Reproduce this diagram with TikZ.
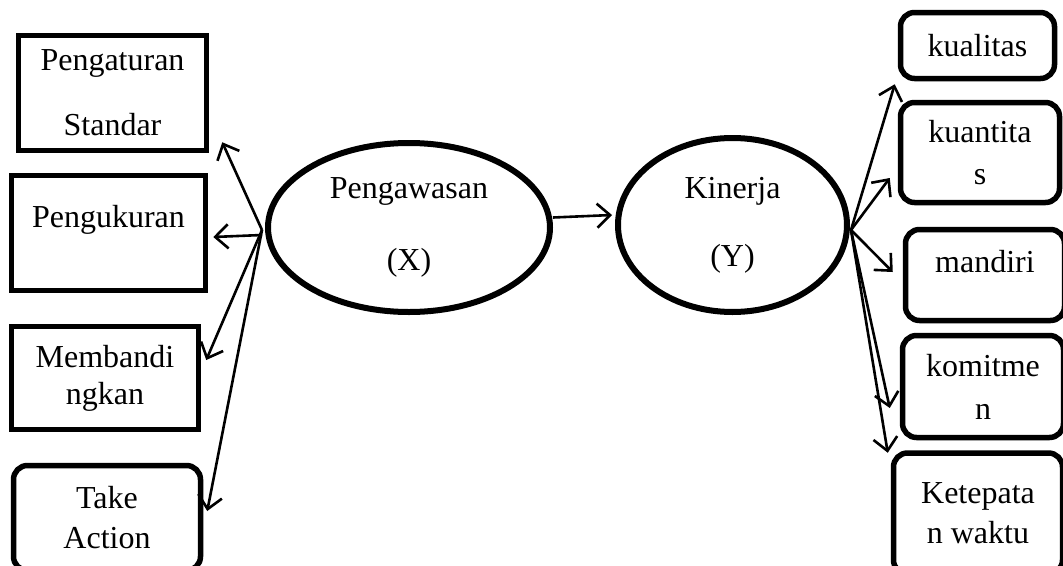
\documentclass[tikz,border=0pt]{standalone}
\usepackage{fontspec}
\setmainfont{Liberation Serif}
\usetikzlibrary{shapes.geometric,arrows.meta,calc}
\begin{document}
\begin{tikzpicture}[x=1pt,y=-1pt,
  box/.style={draw, line width=5.5pt, rectangle, inner sep=0pt, align=center, font=\fontsize{32}{#1}\selectfont},
  box/.default=40,
  rbox/.style={box=#1, rounded corners=14pt},
  rbox/.default=40,
  ell/.style={draw, ellipse, line width=6pt, inner sep=0pt, align=center, font=\fontsize{32}{#1}\selectfont},
  arr/.style={line width=2.6pt, -{Straight Barb[length=13pt,width=24pt,line width=2.6pt]}}]
\useasboundingbox (0,0) rectangle (1063,565);
% left boxes
\node[box=65, minimum width=188pt, minimum height=115pt] (b1) at (112.5,93) {Pengaturan\\Standar};
\node[box, minimum width=194pt, minimum height=115pt, text depth=34pt] (b2) at (108.5,233) {Pengukuran};
\node[box=37, minimum width=187pt, minimum height=103pt] (b3) at (105,378) {Membandi\\ngkan};
\node[rbox=40, minimum width=187pt, minimum height=105pt] (b4) at (107,518) {Take\\Action};
% ellipses
\node[ell=72, minimum width=282pt, minimum height=169pt] (P) at (409,227.5) {Pengawasan\\(X)};
\node[ell=68, minimum width=229pt, minimum height=174pt] (K) at (732.5,225) {Kinerja\\(Y)};
% right boxes
\node[rbox, minimum width=154pt, minimum height=66pt] (r1) at (977.5,45.5) {kualitas};
\node[rbox=42, minimum width=159pt, minimum height=100pt] (r2) at (980,152.5) {kuantita\\s};
\node[rbox, minimum width=159pt, minimum height=91pt, text depth=27pt] (r3) at (985,275) {mandiri};
\node[rbox=43, minimum width=161pt, minimum height=102pt] (r4) at (983,386.5) {komitme\\n};
\node[rbox=40, minimum width=169pt, minimum height=121pt] (r5) at (978,513.5) {Ketepata\\n waktu};
% origins
\coordinate (L) at (262,230);
\coordinate (R) at (851,230);
% connectors
\draw[arr] ([yshift=10pt]P.east) -- ([yshift=10pt,xshift=-3pt]K.west);
\draw[arr] (L) -- ($(b1.south east)+(13,-11)$);
\draw[arr] ($(L)+(0,5)$) -- ($(b2.east)+(5,4)$);
\draw[arr] (L) -- ($(b3.east)+(5,-18)$);
\draw[arr] (L) -- ($(b4.east)+(4,-7)$);
\draw[arr] (R) -- ($(r1.south west)+(-3,3)$);
\draw[arr] (R) -- ($(r2.west)+(-8,25.5)$);
\draw[arr] (R) -- ($(r3.west)+(-10,-3)$);
\draw[arr] (R) -- ($(r4.west)+(-10,21.5)$);
\draw[arr] (R) -- ($(r5.north west)+(-3,2.5)$);
\end{tikzpicture}
\end{document}
